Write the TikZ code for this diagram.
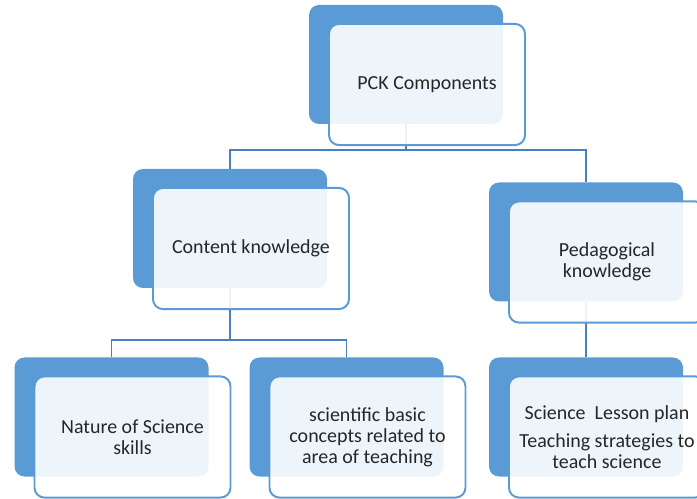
\documentclass[tikz,border=0pt]{standalone}
\usepackage{fontspec}
\setmainfont{Carlito}
\usepackage{tikz}
\usetikzlibrary{positioning}
\definecolor{pckblue}{RGB}{91,155,213}
\definecolor{pckline}{RGB}{70,128,190}
\definecolor{pcktext}{RGB}{38,38,38}

\begin{document}
\begin{tikzpicture}[
    backbox/.style={rectangle, rounded corners=0.25cm, fill=pckblue, draw=none, inner sep=0pt, minimum width=4.85cm, minimum height=2.975cm},
    frontbox/.style={rectangle, rounded corners=0.25cm, draw=pckblue, line width=1.4pt, fill=white, fill opacity=0.9, text opacity=1, inner sep=0pt, minimum width=4.9cm, minimum height=3.03cm, align=center, text=pcktext, font=\fontsize{14.2}{14.8}\selectfont},
    link/.style={pckline, line width=1.4pt}
]
\useasboundingbox (0,0) rectangle (17.425,-12.475);

% Back plates
\node[backbox] (pck-back) at (10.15,-1.6125) {};
\node[backbox] (ck-back) at (5.75,-5.7125) {};
\node[backbox] (pk-back) at (14.65,-6.05) {};
\node[backbox] (nos-back) at (2.7875,-10.425) {};
\node[backbox] (sci-back) at (8.6625,-10.425) {};
\node[backbox] (plan-back) at (14.65,-10.425) {};

% Connectors
\draw[link] (pck-back.south) -- ++(0,-0.65) -| (ck-back.north);
\draw[link] (pck-back.south) -- ++(0,-0.65) -| (pk-back.north);
\draw[link] (ck-back.south) -- ++(0,-1.3) -| (nos-back.north);
\draw[link] (ck-back.south) -- ++(0,-1.3) -| (sci-back.north);
\draw[link] (pk-back.south) -- (plan-back.north);

% Front panels
\node[frontbox] (pck) at ([shift={(0.525,-0.5)}]pck-back) {PCK Components};
\node[frontbox] (ck) at ([shift={(0.525,-0.5)}]ck-back) {Content knowledge};
\node[frontbox] (pk) at ([shift={(0.525,-0.5)}]pk-back) {Pedagogical\\knowledge};
\node[frontbox] (nos) at ([shift={(0.525,-0.5)}]nos-back) {Nature of Science\\skills};
\node[frontbox] (sci) at ([shift={(0.525,-0.5)}]sci-back) {scientific basic\\concepts related to\\area of teaching};
\node[frontbox] (plan) at ([shift={(0.525,-0.5)}]plan-back) {Science\ \ Lesson plan\\[0.2cm]Teaching strategies to\\teach science};

\end{tikzpicture}
\end{document}
